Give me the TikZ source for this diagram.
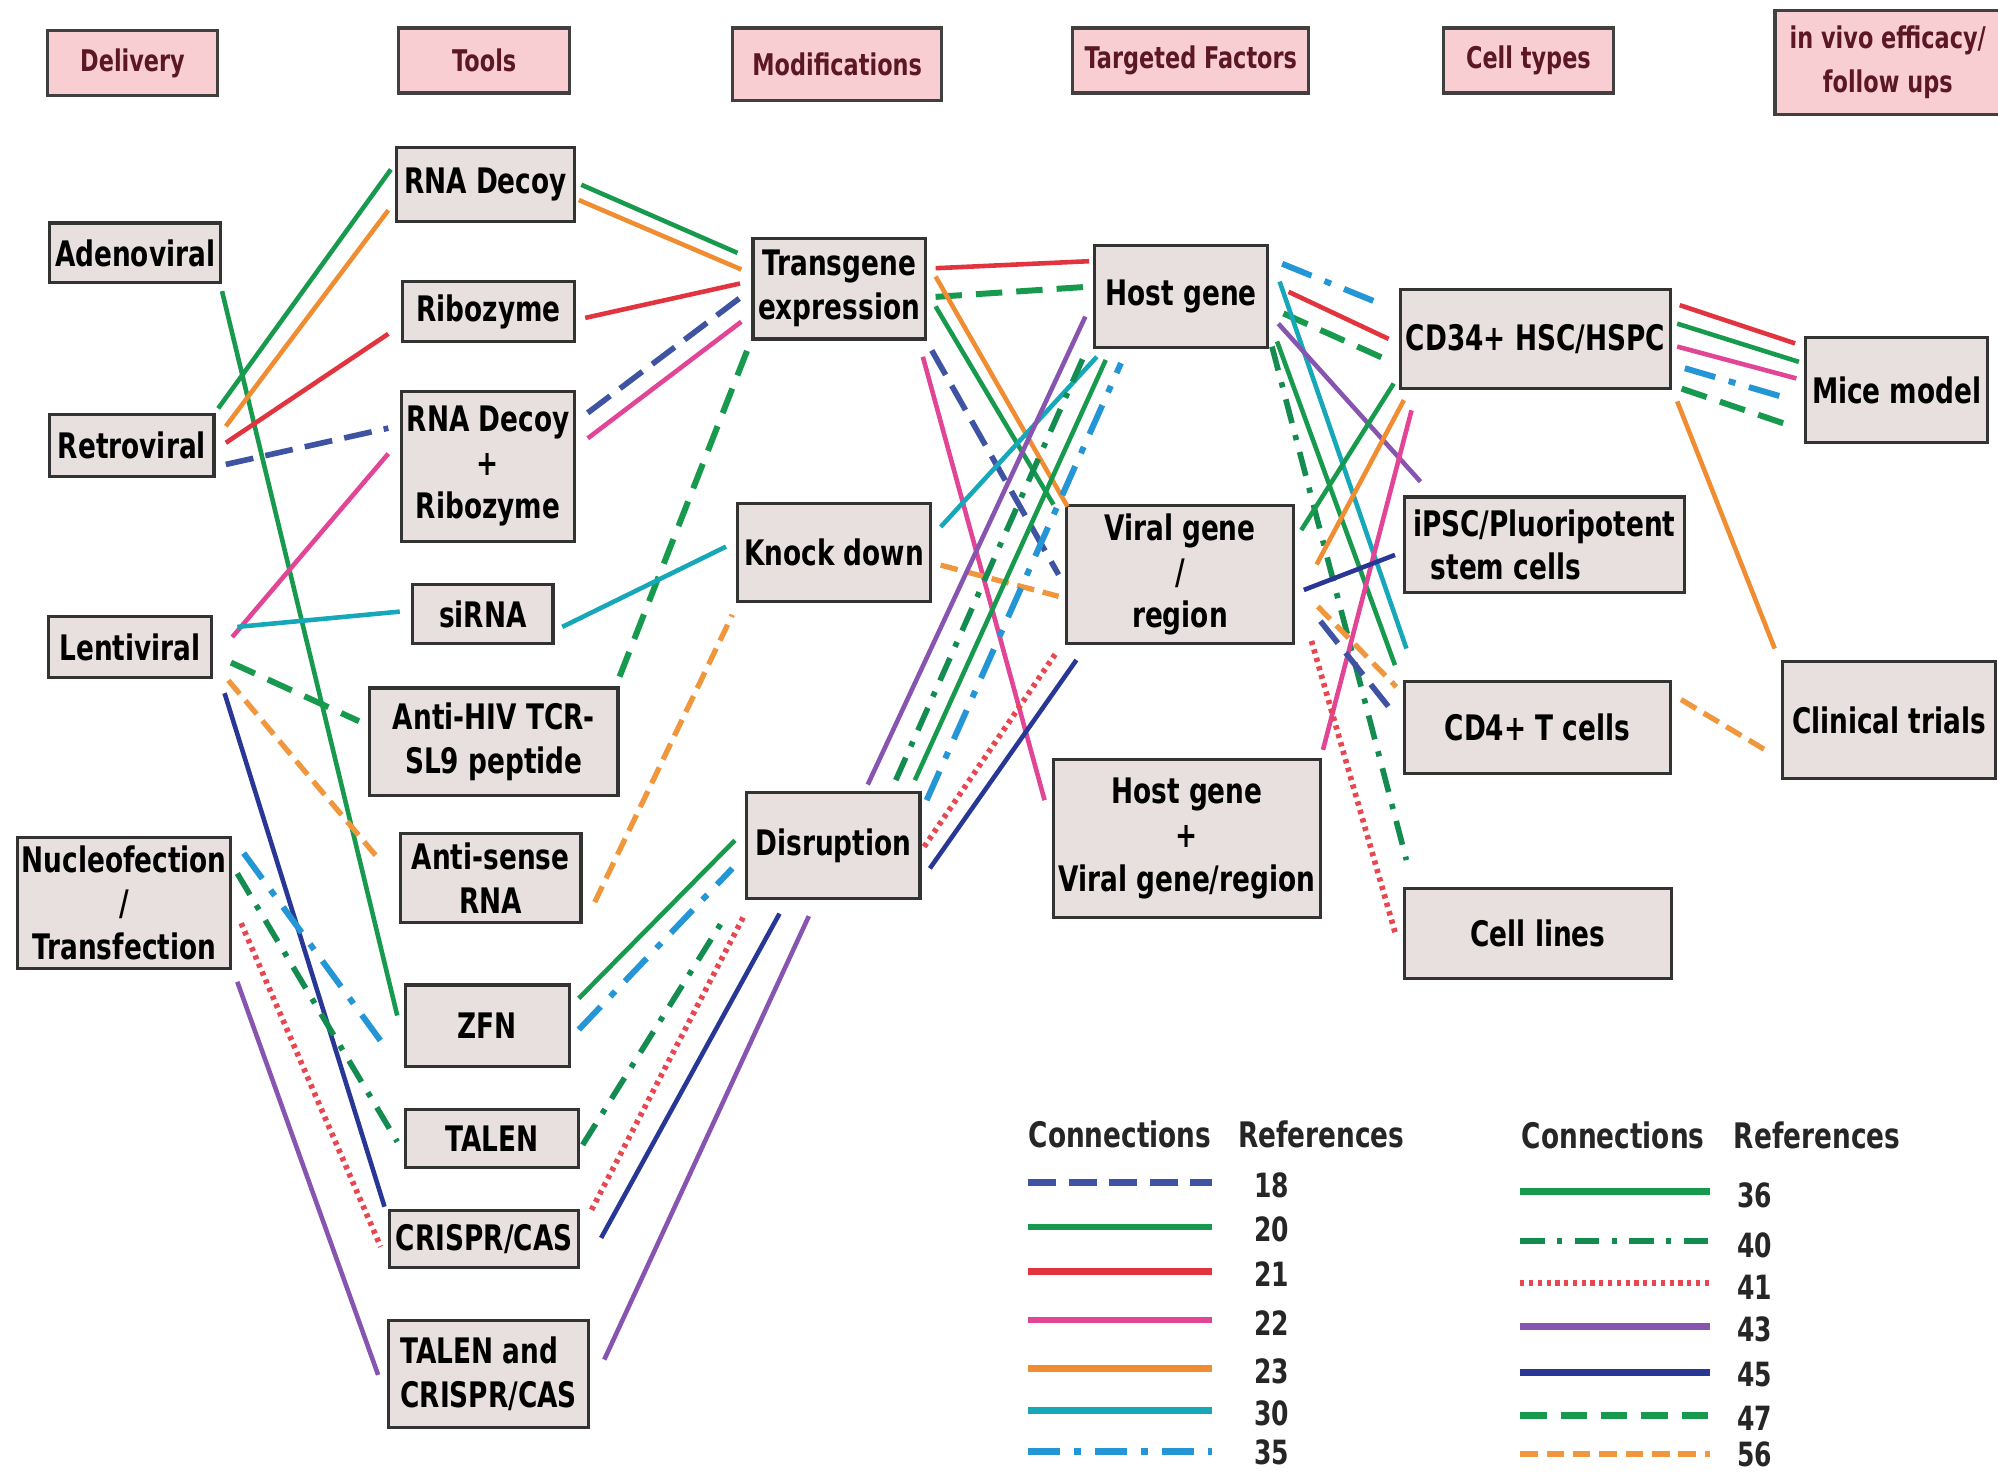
\documentclass[tikz,border=0pt]{standalone}
\usepackage{fontspec}
\setmainfont{DejaVu Sans}[FakeStretch=0.75]
\usepackage{xcolor}
\usepackage{tikz}

\definecolor{boxfill}{RGB}{232,223,223}
\definecolor{headfill}{RGB}{248,206,211}
\definecolor{headtext}{RGB}{92,24,34}
\definecolor{col18}{RGB}{63,83,163}
\definecolor{col20}{RGB}{24,154,78}
\definecolor{col21}{RGB}{225,52,63}
\definecolor{col22}{RGB}{226,68,150}
\definecolor{col23}{RGB}{240,140,50}
\definecolor{col30}{RGB}{22,168,184}
\definecolor{col35}{RGB}{36,150,214}
\definecolor{col36}{RGB}{24,154,78}
\definecolor{col40}{RGB}{20,140,80}
\definecolor{col41}{RGB}{232,70,80}
\definecolor{col43}{RGB}{135,85,175}
\definecolor{col45}{RGB}{40,55,150}
\definecolor{col47}{RGB}{24,154,78}
\definecolor{col56}{RGB}{240,150,60}

\newcommand{\pxu}{0.012742cm}

\tikzset{
  cellbox/.style={draw=black!80, line width=0.9pt, fill=boxfill, inner sep=0pt, align=center,
    font=\fontsize{10}{12.4}\selectfont\bfseries},
  headbox/.style={draw=black!75, line width=0.9pt, fill=headfill, text=headtext, inner sep=0pt,
    align=center, font=\fontsize{8.5}{12.7}\selectfont\bfseries},
  dims/.style 2 args={minimum width=#1*\pxu, minimum height=#2*\pxu},
  link/.style={line width=1.3pt},
  ref18/.style={link, col18, line width=1.6pt, dash pattern=on 8pt off 3.5pt},
  ref20/.style={link, col20},
  ref21/.style={link, col21},
  ref22/.style={link, col22},
  ref23/.style={link, col23},
  ref30/.style={link, col30},
  ref35/.style={link, col35, line width=1.7pt, dash pattern=on 9pt off 4pt on 2pt off 4pt},
  ref36/.style={link, col36},
  ref40/.style={link, col40, line width=1.6pt, dash pattern=on 7pt off 3.5pt on 1.5pt off 3.5pt},
  ref41/.style={link, col41, line width=1.6pt, dash pattern=on 1.2pt off 1.3pt},
  ref43/.style={link, col43},
  ref45/.style={link, col45},
  ref47/.style={link, col47, line width=1.7pt, dash pattern=on 7.5pt off 4pt},
  ref56/.style={link, col56, line width=1.5pt, dash pattern=on 5pt off 2.5pt},
  legline/.style={line width=1.9pt},
  leghead/.style={font=\fontsize{10}{12}\selectfont\bfseries, text=black!85},
  legnum/.style={font=\fontsize{9.5}{12}\selectfont\bfseries, text=black!85}
}

\begin{document}
\begin{tikzpicture}[x=0.012742cm, y=-0.012742cm]
\fill[white] (0,0) rectangle (1568,1155);
\useasboundingbox (0,0) rectangle (1568,1155);

% column headers
\node[headbox, dims={134}{51}] (hdeliv) at (104,49.5) {Delivery};
\node[headbox, dims={134}{51}] (htools) at (380,47.5) {Tools};
\node[headbox, dims={164}{57}] (hmod) at (657,50.5) {Modifications};
\node[headbox, dims={185}{51}] (htarget) at (934.5,47.5) {Targeted Factors};
\node[headbox, dims={133}{51}] (hcell) at (1199.5,47.5) {Cell types};
\node[headbox, dims={177}{82}] (hvivo) at (1481.5,49) {in vivo efficacy/\\follow ups};

% delivery
\node[cellbox, dims={134}{47}] (ado) at (106,198.5) {Adenoviral};
\node[cellbox, dims={129}{49}] (ret) at (103.5,349.5) {Retroviral};
\node[cellbox, dims={128}{48}] (len) at (102,508) {Lentiviral};
\node[cellbox, dims={167}{103}] (nuc) at (97.5,708.5) {Nucleofection\\/\\Transfection};

% tools
\node[cellbox, dims={140}{58}] (rdec) at (381,145) {RNA Decoy};
\node[cellbox, dims={135}{47}] (ribo) at (383.5,244.5) {Ribozyme};
\node[cellbox, dims={136}{118}] (rdr) at (383,366) {RNA Decoy\\+\\Ribozyme};
\node[cellbox, dims={110}{46}] (sirna) at (379,482) {siRNA};
\node[cellbox, dims={195}{84}] (tcr) at (387.5,582) {Anti-HIV TCR-\\SL9 peptide};
\node[cellbox, dims={142}{70}] (anti) at (385,689) {Anti-sense\\RNA};
\node[cellbox, dims={129}{64}] (zfn) at (382.5,805) {ZFN};
\node[cellbox, dims={136}{45}] (talen) at (386,893.5) {TALEN};
\node[cellbox, dims={148}{45}] (crispr) at (380,972.5) {CRISPR/CAS};
\node[cellbox, dims={157}{84}, align=left] (tc) at (383.5,1078) {TALEN and\\CRISPR/CAS};

% modifications
\node[cellbox, dims={135}{79}] (trans) at (658.5,226.5) {Transgene\\expression};
\node[cellbox, dims={151}{77}] (knock) at (654.5,433.5) {Knock down};
\node[cellbox, dims={136}{83}] (disr) at (654,663.5) {Disruption};

% targeted factors
\node[cellbox, dims={136}{80}] (host) at (927,233) {Host gene};
\node[cellbox, dims={178}{108}] (viral) at (926,451) {Viral gene\\/\\region};
\node[cellbox, dims={209}{124}] (hv) at (931.5,658) {Host gene\\+\\Viral gene/region};

% cell types
\node[cellbox, dims={212}{78}] (cd34) at (1205,266) {CD34+ HSC/HSPC};
\node[cellbox, dims={220}{75}, align=left] (ipsc) at (1212,427.5) {iPSC/Pluoripotent\\\hspace*{5pt}stem cells};
\node[cellbox, dims={209}{72}] (cd4) at (1206.5,571) {CD4+ T cells};
\node[cellbox, dims={210}{71}] (clines) at (1207,732.5) {Cell lines};

% in vivo
\node[cellbox, dims={143}{82}] (mice) at (1488.5,306) {Mice model};
\node[cellbox, dims={167}{92}] (clin) at (1482.5,565) {Clinical trials};

% delivery -> tools
\draw[ref20] ([shift={(0,30)}]ado.east) -- ([shift={(-5,-8)}]zfn.west);
\draw[ref20] ([shift={(2,-29)}]ret.east) -- ([shift={(-3,-12)}]rdec.west);
\draw[ref23] ([shift={(8,-15)}]ret.east) -- ([shift={(-5,20)}]rdec.west);
\draw[ref21] ([shift={(8,-2)}]ret.east) -- ([shift={(-10,17.5)}]ribo.west);
\draw[ref18] ([shift={(8,15)}]ret.east) -- ([shift={(-9,-30)}]rdr.west);
\draw[ref22] ([shift={(15,-8)}]len.east) -- ([shift={(-9,-10)}]rdr.west);
\draw[ref30] ([shift={(19,-16)}]len.east) -- ([shift={(-9,-2)}]sirna.west);
\draw[ref47] ([shift={(14,12)}]len.east) -- ([shift={(-7,-16)}]tcr.west);
\draw[ref56] ([shift={(12,26)}]len.east) -- ([shift={(-14,-13)}]anti.west);
\draw[ref45] ([shift={(9,36)}]len.east) -- ([shift={(-3,-25.5)}]crispr.west);
\draw[ref35] ([shift={(9,-39)}]nuc.east) -- ([shift={(-15,16)}]zfn.west);
\draw[ref40] ([shift={(4,-23)}]nuc.east) -- ([shift={(-5,2.5)}]talen.west);
\draw[ref41] ([shift={(7,16)}]nuc.east) -- ([shift={(-6,6)}]crispr.west);
\draw[ref43] ([shift={(4,62)}]nuc.east) -- ([shift={(-7,1)}]tc.west);

% tools -> modifications
\draw[ref20] ([shift={(4,0)}]rdec.east) -- ([shift={(-11,-28)}]trans.west);
\draw[ref23] ([shift={(2,12)}]rdec.east) -- ([shift={(-8,-15)}]trans.west);
\draw[ref21] ([shift={(7,5)}]ribo.east) -- ([shift={(-9,-4)}]trans.west);
\draw[ref18] ([shift={(9,-42)}]rdr.east) -- ([shift={(-6,5)}]trans.west);
\draw[ref22] ([shift={(9,-22)}]rdr.east) -- ([shift={(-8,26)}]trans.west);
\draw[ref47] ([shift={(0,-51)}]tcr.east) -- ([shift={(-2,45)}]trans.west);
\draw[ref30] ([shift={(6,10)}]sirna.east) -- ([shift={(-8,-4.5)}]knock.west);
\draw[ref56] ([shift={(9.5,19)}]anti.east) -- ([shift={(-3,49)}]knock.west);
\draw[ref36] ([shift={(6,-21.5)}]zfn.east) -- ([shift={(-8,-4)}]disr.west);
\draw[ref35] ([shift={(6,3)}]zfn.east) -- ([shift={(-10,18)}]disr.west);
\draw[ref40] ([shift={(2,5)}]talen.east) -- ([shift={(-15,55)}]disr.west);
\draw[ref41] ([shift={(9,-23)}]crispr.east) -- ([shift={(0,53.5)}]disr.west);
\draw[ref45] ([shift={(16.5,-1)}]crispr.east) -- ([shift={(27,53.5)}]disr.west);
\draw[ref43] ([shift={(11,-11)}]tc.east) -- ([shift={(50,55.5)}]disr.west);

% modifications -> targeted factors
\draw[ref21] ([shift={(7,-16)}]trans.east) -- ([shift={(-3,-28)}]host.west);
\draw[ref47] ([shift={(7,6.5)}]trans.east) -- ([shift={(-3,-8)}]host.west);
\draw[ref23] ([shift={(7,-9.5)}]trans.east) -- ([shift={(2,-53.5)}]viral.west);
\draw[ref20] ([shift={(7,14)}]trans.east) -- ([shift={(-9,-55)}]viral.west);
\draw[ref18] ([shift={(4,48.5)}]trans.east) -- ([shift={(-5,0)}]viral.west);
\draw[ref22] ([shift={(-3,53.5)}]trans.east) -- ([shift={(-6,-30)}]hv.west);
\draw[ref30] ([shift={(7,-20)}]knock.east) -- ([shift={(3,47)}]host.west);
\draw[ref56] ([shift={(7,10)}]knock.east) -- ([shift={(-5,17)}]viral.west);
\draw[ref43] ([shift={(27,-5)}]disr.north) -- ([shift={(-6,15.5)}]host.west);
\draw[ref40] ([shift={(49,-8.5)}]disr.north) -- ([shift={(-6,44)}]host.west);
\draw[ref36] ([shift={(64,-8.5)}]disr.north) -- ([shift={(10,49.5)}]host.west);
\draw[ref35] ([shift={(4,-35.5)}]disr.east) -- ([shift={(22,52)}]host.west);
\draw[ref41] ([shift={(2,1)}]disr.east) -- ([shift={(-6,60)}]viral.west);
\draw[ref45] ([shift={(6.5,18)}]disr.east) -- ([shift={(9,67)}]viral.west);

% targeted factors -> cell types
\draw[ref35] ([shift={(10,-26)}]host.east) -- ([shift={(-13,-27)}]cd34.west);
\draw[ref21] ([shift={(15,-4)}]host.east) -- ([shift={(-8,0)}]cd34.west);
\draw[ref47] ([shift={(11,13)}]host.east) -- ([shift={(-9,16.5)}]cd34.west);
\draw[ref30] ([shift={(8,-12)}]host.east) -- ([shift={(3,-62)}]cd4.west);
\draw[ref43] ([shift={(7,21)}]host.east) -- ([shift={(14,-49.5)}]ipsc.west);
\draw[ref36] ([shift={(6,35)}]host.east) -- ([shift={(-6,-49)}]cd4.west);
\draw[ref40] ([shift={(2,39)}]host.east) -- ([shift={(3,-57.5)}]clines.west);
\draw[ref20] ([shift={(5,-35)}]viral.east) -- ([shift={(-4,35)}]cd34.west);
\draw[ref23] ([shift={(17,-8)}]viral.east) -- ([shift={(4,48)}]cd34.west);
\draw[ref22] ([shift={(1,-69.5)}]hv.east) -- ([shift={(10,56)}]cd34.west);
\draw[ref45] ([shift={(7,12)}]viral.east) -- ([shift={(-6,8)}]ipsc.west);
\draw[ref56] ([shift={(18,25)}]viral.east) -- ([shift={(-5,-32)}]cd4.west);
\draw[ref18] ([shift={(20,36.5)}]viral.east) -- ([shift={(-6,-10)}]cd4.west);
\draw[ref41] ([shift={(13,52)}]viral.east) -- ([shift={(-5,2.5)}]clines.west);

% cell types -> in vivo
\draw[ref21] ([shift={(6,-26.5)}]cd34.east) -- ([shift={(-7,-36.5)}]mice.west);
\draw[ref20] ([shift={(4,-12)}]cd34.east) -- ([shift={(-4,-22)}]mice.west);
\draw[ref22] ([shift={(4,6)}]cd34.east) -- ([shift={(-6,-9)}]mice.west);
\draw[ref35] ([shift={(10,23)}]cd34.east) -- ([shift={(-13.5,6.5)}]mice.west);
\draw[ref47] ([shift={(7.5,39)}]cd34.east) -- ([shift={(-8,29)}]mice.west);
\draw[ref23] ([shift={(4,49)}]cd34.east) -- ([shift={(-5,-56)}]clin.west);
\draw[ref56] ([shift={(7,-22)}]cd4.east) -- ([shift={(-12.5,23.5)}]clin.west);

% legend
\node[leghead] (conA) at (879,890) {Connections};
\node[leghead] (refA) at (1037,890) {References};
\node[leghead] (conB) at (1266,891) {Connections};
\node[leghead] (refB) at (1426,891) {References};

\draw[ref18, legline] (807,928) -- (951,928);
\node[legnum] (k18) at (998,930) {18};
\draw[ref20, legline] (807,963) -- (951,963);
\node[legnum] (k20) at (998,965) {20};
\draw[ref21, legline] (807,998) -- (951,998);
\node[legnum] (k21) at (998,1000) {21};
\draw[ref22, legline] (807,1036) -- (951,1036);
\node[legnum] (k22) at (998,1038) {22};
\draw[ref23, legline] (807,1074) -- (951,1074);
\node[legnum] (k23) at (998,1076) {23};
\draw[ref30, legline] (807,1107) -- (951,1107);
\node[legnum] (k30) at (998,1109) {30};
\draw[ref35, legline] (807,1139) -- (951,1139);
\node[legnum] (k35) at (998,1140) {35};

\draw[ref36, legline] (1193,935) -- (1342,935);
\node[legnum] (k36) at (1377,938) {36};
\draw[ref40, legline] (1193,974) -- (1342,974);
\node[legnum] (k40) at (1377,977) {40};
\draw[ref41, legline] (1193,1007) -- (1342,1007);
\node[legnum] (k41) at (1377,1010) {41};
\draw[ref43, legline] (1193,1041) -- (1342,1041);
\node[legnum] (k43) at (1377,1043) {43};
\draw[ref45, legline] (1193,1077) -- (1342,1077);
\node[legnum] (k45) at (1377,1079) {45};
\draw[ref47, legline] (1193,1111) -- (1342,1111);
\node[legnum] (k47) at (1377,1113) {47};
\draw[ref56, legline] (1193,1141) -- (1342,1141);
\node[legnum] (k56) at (1377,1141) {56};
\end{tikzpicture}
\end{document}
